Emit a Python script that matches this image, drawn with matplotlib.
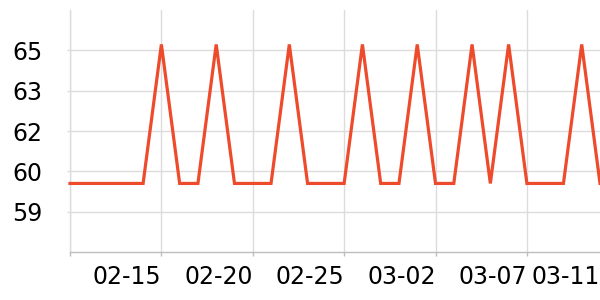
import matplotlib
matplotlib.use("Agg")
import matplotlib.pyplot as plt
import pandas as pd

# Data
dates = pd.date_range("2023-02-10", "2023-03-11", freq="D")
LOW, HIGH = 60.05, 65.22
values = [LOW, LOW, LOW, LOW, LOW, HIGH, LOW, LOW, HIGH, LOW,
          LOW, LOW, HIGH, LOW, LOW, LOW, HIGH, LOW, LOW, HIGH,
          LOW, LOW, HIGH, LOW, HIGH, LOW, LOW, LOW, HIGH, LOW]
x_tick_idx = [0, 5, 10, 15, 20, 25, 29]
x_tick_labels = [""] + [dates[i].strftime("%m-%d") for i in x_tick_idx[1:]]
y_ticks = [59, 60.5, 62, 63.5, 65]
y_tick_labels = ["59", "60", "62", "63", "65"]

fig = plt.figure(figsize=(6, 3), dpi=100)
ax = fig.add_axes([70/600, 48/300, 530/600, 242/300])

xs = list(range(len(values)))
ax.plot(xs, values, color="#ee4a2c", lw=2.3, solid_joinstyle="miter", zorder=3, clip_on=False)

ax.set_xlim(0, len(values) - 1)
ax.set_ylim(57.5, 66.5)

grid_c = "#dcdcdc"
for i in x_tick_idx[:-1]:
    ax.axvline(i, color=grid_c, lw=1, zorder=1)
for y in y_ticks:
    ax.axhline(y, color=grid_c, lw=1, zorder=1)

ax.set_xticks(x_tick_idx)
ax.set_xticklabels(x_tick_labels, ha="right", fontsize=17)
ax.set_yticks(y_ticks)
ax.set_yticklabels(y_tick_labels, fontsize=17)

for s in ["top", "right"]:
    ax.spines[s].set_visible(False)
ax.spines["left"].set_color(grid_c)
ax.spines["left"].set_linewidth(1)
ax.spines["bottom"].set_color("#bdbdbd")
ax.spines["bottom"].set_linewidth(1)

ax.tick_params(axis="x", length=3, width=1, color="#bdbdbd", pad=6)
ax.tick_params(axis="y", length=2, width=1, color=grid_c, pad=18)
ax.xaxis.get_major_ticks()[-1].tick1line.set_visible(False)

fig.savefig("out.png", dpi=100)
